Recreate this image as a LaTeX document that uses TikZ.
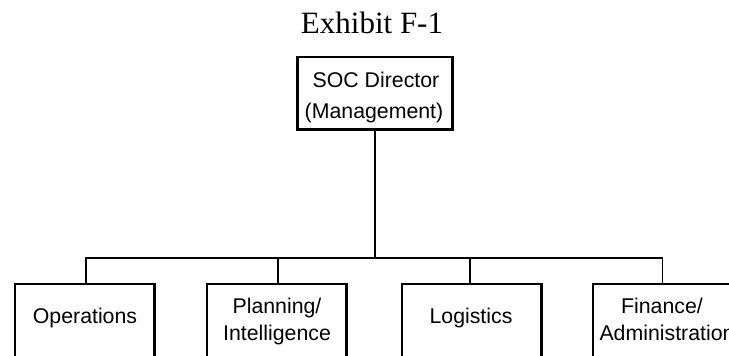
\documentclass[tikz,border=0pt]{standalone}
\usepackage{fontspec}
\setmainfont{Liberation Serif}
\newfontfamily\arialf{Liberation Sans}
\begin{document}
\begin{tikzpicture}[x=1pt,y=-1pt,
  box/.style={draw=black, line width=2.6pt, rectangle, inner sep=0pt},
  lbl/.style={font=\arialf\fontsize{21.3}{27}\selectfont, align=center, inner sep=0pt, anchor=base},
  conn/.style={draw=black, line width=1.2pt}]
\useasboundingbox (0,0) rectangle (729,356);
% title
\node[font=\fontsize{31}{36}\selectfont, inner sep=0pt, anchor=base] (title) at (372,33) {Exhibit F-1};
% boxes
\node[box, minimum width=155pt, minimum height=72.4pt] (soc) at (375,93) {};
\node[box, minimum width=139.4pt, minimum height=95.7pt] (ops) at (84.5,332) {};
\node[box, minimum width=139.4pt, minimum height=95.7pt] (plan) at (276.5,332) {};
\node[box, minimum width=139.4pt, minimum height=95.7pt] (log) at (471.5,332) {};
\node[box, minimum width=139.4pt, minimum height=95.7pt] (fin) at (662.5,332) {};
% labels
\node[lbl] (socA) at (376,87) {SOC Director};
\node[lbl] (socB) at (374,118) {(Management)};
\node[lbl] (opsA) at (85,323) {Operations};
\node[lbl] (planA) at (277,313) {Planning/};
\node[lbl] (planB) at (277,340) {Intelligence};
\node[lbl] (logA) at (471,323) {Logistics};
\node[lbl] (finA) at (662,313) {Finance/};
\node[lbl] (finB) at (667,340) {Administration};
% connectors
\coordinate (bus) at (375,258);
\draw[conn] (soc.south) -- (bus);
\draw[conn] ([xshift=1.5pt]ops.north) |- (bus);
\draw[conn] ([xshift=1.5pt]plan.north) |- (bus);
\draw[conn] ([xshift=-1.5pt]log.north) |- (bus);
\draw[conn] ([yshift=-1pt]fin.north) |- (bus);
\end{tikzpicture}
\end{document}
